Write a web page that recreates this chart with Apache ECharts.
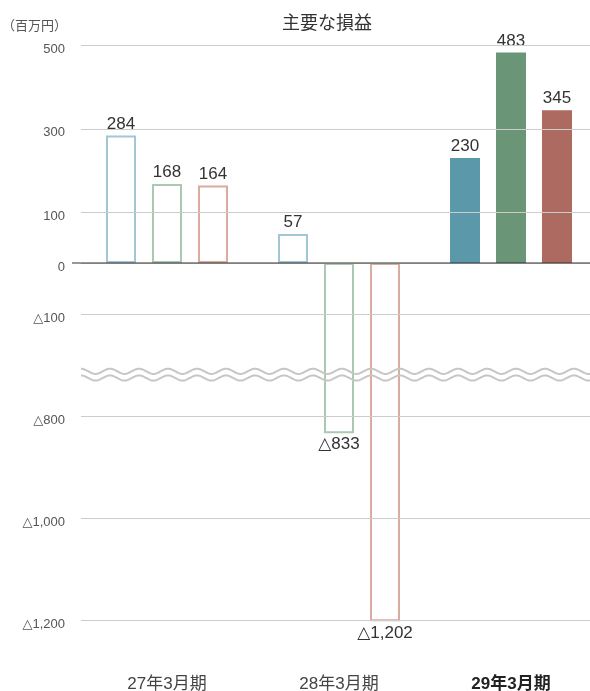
<!DOCTYPE html>
<html>
<head>
<meta charset="utf-8">
<script src="https://cdn.jsdelivr.net/npm/echarts@6/dist/echarts.min.js"></script>
<style>
  html, body { margin: 0; padding: 0; background: #fff; }
  #chart { width: 590px; height: 691px; }
</style>
</head>
<body>
<div id="chart"></div>
<script>
// ---- data ----
const categories = ['27年3月期', '28年3月期', '29年3月期'];
const blueValues  = [284, 57, 230];
const greenValues = [168, -833, 483];
const redValues   = [164, -1202, 345];
const yTickValues = [500, 300, 100, 0, -100, -800, -1000, -1200];

// ---- broken, piecewise-linear value scale (value -> axis units) ----
const SCALE_KNOTS = [
  [-1200, -357.3], [-800, -153.3], [-100, -51.3],
  [0, 0], [100, 50.7], [500, 217.5]
];
function toAxis(v) {
  const k = SCALE_KNOTS;
  let i = 0;
  while (i < k.length - 2 && v > k[i + 1][0]) i++;
  const [v0, a0] = k[i], [v1, a1] = k[i + 1];
  return a0 + (v - v0) * (a1 - a0) / (v1 - v0);
}
function fmtValue(v) {
  const s = Math.abs(v).toLocaleString('en-US');
  return v < 0 ? '△' + s : s;
}

const FONT = "'Liberation Sans', 'DejaVu Sans', 'Noto Sans CJK JP', sans-serif";
const CJK_FONT = "'Liberation Sans', 'Noto Sans CJK JP', sans-serif";

const OUTLINE = ['#a2c6d4', '#abc9b1', '#dcab9f'];
const FILL    = ['#5a98aa', '#6a9576', '#ac6a60'];

function barSeries(name, values, idx) {
  return {
    type: 'bar',
    name: name,
    barWidth: 30,
    barGap: '53.3%',
    z: 3,
    data: values.map((v, i) => ({
      value: toAxis(v),
      raw: v,
      itemStyle: i < 2
        ? { color: '#ffffff', borderColor: OUTLINE[idx], borderWidth: 2 }
        : { color: FILL[idx], borderWidth: 0 },
      label: { position: v < 0 ? 'bottom' : 'top' }
    })),
    label: {
      show: true,
      distance: 3,
      fontSize: 17,
      color: '#333',
      fontFamily: FONT,
      formatter: p => fmtValue(p.data.raw)
    },
    emphasis: { disabled: true }
  };
}

const chart = echarts.init(document.getElementById('chart'), null, { renderer: 'canvas' });

chart.setOption({
  animation: false,
  backgroundColor: '#ffffff',
  title: {
    text: '主要な損益',
    left: 282,
    top: 15,
    padding: 0,
    textStyle: { fontSize: 18, fontWeight: 'normal', color: '#333', fontFamily: CJK_FONT }
  },
  graphic: [{
    type: 'text',
    left: 2,
    top: 20,
    style: { text: '（百万円）', fontSize: 13, fill: '#555', fontFamily: CJK_FONT }
  }],
  grid: { left: 81, top: 40, width: 516, height: 590, outerBoundsMode: 'none', containLabel: false },
  xAxis: {
    type: 'category',
    data: categories,
    boundaryGap: true,
    axisLine: { show: false, onZero: false },
    axisTick: { show: false },
    splitLine: { show: false },
    axisLabel: {
      margin: 46,
      formatter: (v, i) => i === 2 ? '{b|' + v + '}' : '{a|' + v + '}',
      rich: {
        a: { fontSize: 17, color: '#444', fontFamily: CJK_FONT },
        b: { fontSize: 17, color: '#222', fontWeight: 'bold', fontFamily: CJK_FONT }
      }
    }
  },
  yAxis: {
    type: 'value',
    min: -367,
    max: 223,
    show: false,
    splitLine: { show: false }
  },
  series: [
    {
      // gridlines with their tick labels
      type: 'line',
      data: [],
      z: 1,
      silent: true,
      markLine: {
        silent: true,
        symbol: ['none', 'none'],
        animation: false,
        lineStyle: { type: 'solid', color: '#cccccc', width: 1 },
        label: {
          show: true,
          position: 'start',
          distance: 16,
          offset: [0, 4],
          fontSize: 13,
          color: '#555',
          fontFamily: FONT
        },
        emphasis: { disabled: true },
        data: yTickValues.map(v => ({
          yAxis: toAxis(v),
          label: { formatter: fmtValue(v) }
        }))
      }
    },
    barSeries('blue', blueValues, 0),
    barSeries('green', greenValues, 1),
    barSeries('red', redValues, 2),
    {
      // zero baseline and the wavy axis-break marks
      type: 'custom',
      z: 5,
      silent: true,
      clip: false,
      data: [[0, 0]],
      renderItem: (params, api) => {
        const cs = params.coordSys;
        const y0 = api.coord([0, 0])[1];
        const x0 = cs.x, x1 = 590;
        const wave = (yc) => {
          const pts = [];
          for (let x = x0; x <= x1; x += 1) {
            pts.push([x, yc - 2.6 * Math.cos(2 * Math.PI * (x - x0) / 29)]);
          }
          return {
            type: 'polyline',
            shape: { points: pts },
            style: { stroke: '#c6c6c6', lineWidth: 2, fill: null }
          };
        };
        return {
          type: 'group',
          children: [
            {
              type: 'line',
              shape: { x1: x0 - 9, y1: y0, x2: x1, y2: y0 },
              style: { stroke: '#333', lineWidth: 1.2 }
            },
            wave(api.coord([0, -108.3])[1]),
            wave(api.coord([0, -115])[1])
          ]
        };
      }
    }
  ]
});
</script>
</body>
</html>
